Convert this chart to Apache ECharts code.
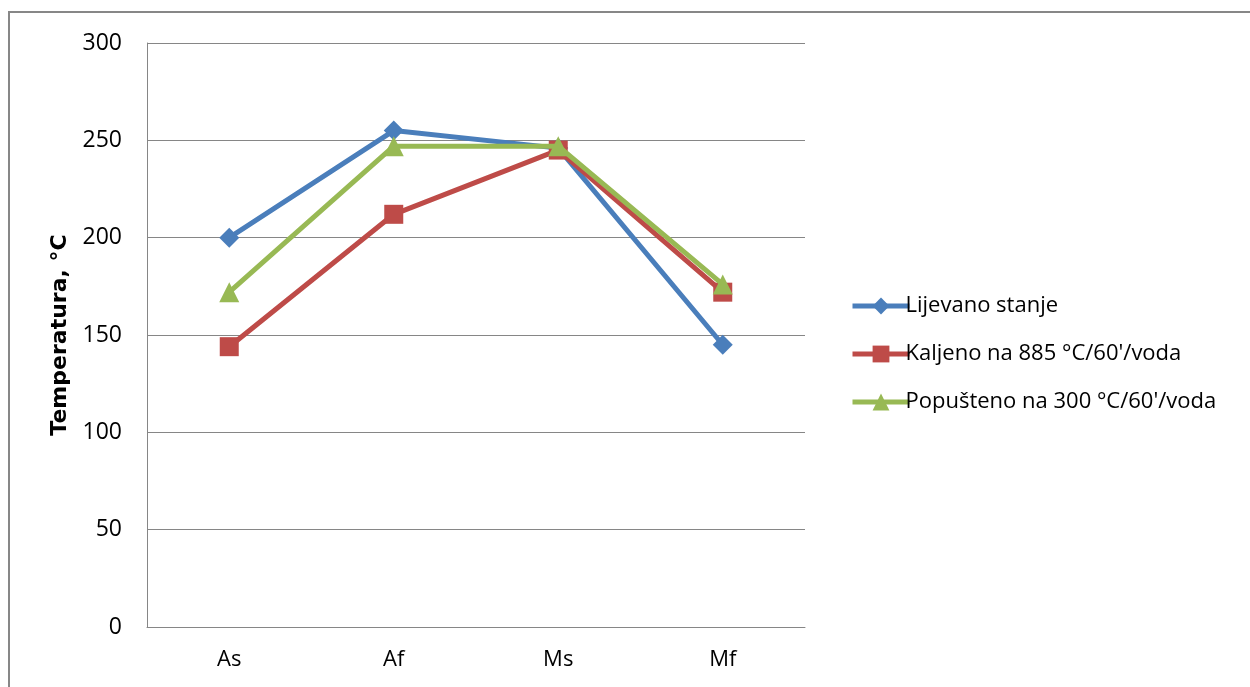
<!DOCTYPE html>
<html><head><meta charset="utf-8">
<script src="https://cdn.jsdelivr.net/npm/echarts@6/dist/echarts.min.js"></script>
<style>html,body{margin:0;padding:0;background:#fff}#c{width:1250px;height:687px}</style>
</head><body><div id="c"></div>
<script>
const categories = ['As', 'Af', 'Ms', 'Mf'];
const seriesNames = ['Lijevano stanje', 'Kaljeno na 885 °C/60\'/voda', 'Popušteno na 300 °C/60\'/voda'];
const lijevano = [200, 255, 246, 145];
const kaljeno = [144, 212, 245, 172];
const popusteno = [172, 247, 247, 176];
const yTicks = { min: 0, max: 300, interval: 50 };

const colors = ['#4A7EBB', '#BE4B48', '#98B954'];
const symbols = ['diamond', 'rect', 'triangle'];
const sizes = [20, 19, 20];
const data = [lijevano, kaljeno, popusteno];
const font = 'Open Sans, Noto Sans, sans-serif';

const chart = echarts.init(document.getElementById('c'));
chart.setOption({
  animation: false,
  color: colors,
  graphic: [{
    type: 'rect', shape: { x: 9, y: 12, width: 1300, height: 720 },
    style: { fill: 'none', stroke: '#878787', lineWidth: 2 }, silent: true, z: 0
  }],
  grid: { left: 147, right: 445, top: 43, bottom: 60 },
  legend: {
    orient: 'vertical', left: 845, top: 288, itemGap: 22,
    itemWidth: 57, itemHeight: 21,
    lineStyle: { width: 5 },
    textStyle: { fontFamily: font, fontSize: 22, lineHeight: 26, color: '#000', padding: [0, 0, 0, -9] },
    data: seriesNames
  },
  xAxis: {
    type: 'category', data: categories, boundaryGap: true,
    axisLine: { lineStyle: { color: '#868686', width: 1 } },
    axisTick: { show: false },
    axisLabel: { fontFamily: font, fontSize: 22, color: '#000', margin: 22 }
  },
  yAxis: {
    type: 'value', min: yTicks.min, max: yTicks.max, interval: yTicks.interval,
    name: 'Temperatura, °C', nameLocation: 'middle', nameGap: 76, nameRotate: 90,
    nameTextStyle: { fontFamily: 'DejaVu Sans, sans-serif', fontSize: 22, fontWeight: 'bold', color: '#000' },
    axisLine: { show: true, lineStyle: { color: '#868686', width: 1 } },
    axisTick: { show: false },
    splitLine: { lineStyle: { color: '#868686', width: 1 } },
    axisLabel: { fontFamily: font, fontSize: 23, color: '#000', margin: 25 }
  },
  series: seriesNames.map((n, i) => ({
    name: n, type: 'line', data: data[i],
    symbol: symbols[i], symbolSize: sizes[i],
    lineStyle: { width: 5, color: colors[i] },
    itemStyle: { color: colors[i] },
    z: 2 + i
  }))
});
</script></body></html>
